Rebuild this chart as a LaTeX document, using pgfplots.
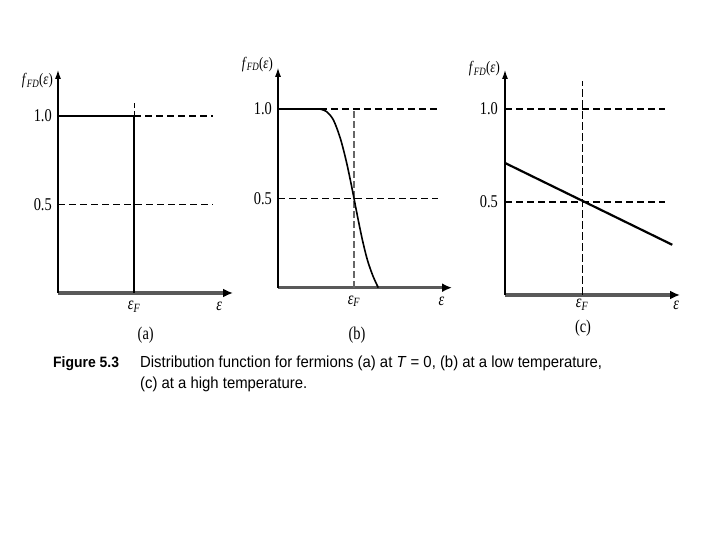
\documentclass[border=0pt]{standalone}
\usepackage{fontspec}
\setmainfont{Liberation Serif}
\newfontfamily\lbl[FakeStretch=0.8]{Liberation Serif}
\newfontfamily\capf[FakeStretch=0.93]{Liberation Sans}
\usepackage{pgfplots}
\pgfplotsset{compat=1.18}
\usetikzlibrary{arrows.meta}

\newcommand{\fd}{\textit{f}\textsubscript{\textit{FD}}(\textit{ε})}
\newcommand{\eF}{\textit{ε}\textsubscript{\textit{F}}}

\tikzset{
  dsh/.style={black, line width=1.2pt, dash pattern=on 7pt off 4pt},
  lbls/.style={font=\lbl\fontsize{18}{18}\selectfont, inner sep=0pt},
  ylab/.style={font=\lbl\fontsize{16}{16}\selectfont, inner sep=0pt, anchor=east},
}
\pgfplotsset{
  fdpanel/.style={
    scale only axis, clip=false, anchor=south west,
    axis x line=bottom, axis y line=left,
    xmin=0, ymin=0,
    xtick=\empty, ytick=\empty,
    x axis line style={line width=3.2pt, draw=black!65, -{Latex[length=10pt,width=9pt,black]}},
    y axis line style={line width=1.1pt, black, -{Latex[length=9pt,width=6pt]}},
  },
}

\begin{document}
\begin{tikzpicture}
\path[fill=white] (0pt,0pt) rectangle (720pt,540pt);

% (a) T = 0
\begin{axis}[fdpanel, at={(58pt,247pt)}, width=175pt, height=223pt, xmax=2.3, ymax=1.26]
\addplot[dsh] coordinates {(0,0.5) (2.04,0.5)};
\addplot[dsh] coordinates {(1,1) (2.04,1)};
\addplot[black, line width=0.9pt, dash pattern=on 5pt off 3pt] coordinates {(1,1) (1,1.09)};
\addplot[black, line width=1.3pt] coordinates {(1,0) (1,1)};
\addplot[black, line width=2.7pt] coordinates {(0,1) (1,1)};
\node[lbls, anchor=east, xshift=-6pt] at (axis cs:0,1) {1.0};
\node[lbls, anchor=east, xshift=-6pt] at (axis cs:0,0.5) {0.5};
\node[lbls, anchor=north, yshift=-8pt] at (axis cs:1,0) {\eF};
\node[lbls, anchor=north, yshift=-9pt] at (axis cs:2.12,0) {\textit{ε}};
\node[ylab, xshift=-5pt] at (axis cs:0,1.20) {\fd};
\end{axis}

% (b) low temperature
\begin{axis}[fdpanel, at={(278pt,252.3pt)}, width=174pt, height=219.8pt, xmax=2.29, ymax=1.23]
\addplot[dsh] coordinates {(0,0.5) (2.1,0.5)};
\addplot[dsh] coordinates {(0.55,1) (2.1,1)};
\addplot[black!60, line width=1.6pt, dash pattern=on 7pt off 3pt] coordinates {(1,0) (1,1)};
\addplot[black, line width=2.6pt] coordinates {(0,1) (0.55,1)};
\addplot[black, line width=1.6pt, smooth] coordinates {
  (0.55,1.0) (0.64,0.985) (0.73,0.938) (0.82,0.836) (0.90,0.705)
  (0.97,0.565) (1.0,0.5) (1.06,0.37) (1.12,0.25) (1.18,0.15)
  (1.25,0.065) (1.32,0.0)};
\node[lbls, anchor=east, xshift=-6pt] at (axis cs:0,1) {1.0};
\node[lbls, anchor=east, xshift=-6pt] at (axis cs:0,0.5) {0.5};
\node[lbls, anchor=north, yshift=-8pt] at (axis cs:1,0) {\eF};
\node[lbls, anchor=north, yshift=-9pt] at (axis cs:2.15,0) {\textit{ε}};
\node[ylab, xshift=-5pt] at (axis cs:0,1.25) {\fd};
\end{axis}

% (c) high temperature
\begin{axis}[fdpanel, at={(505pt,245pt)}, width=175pt, height=225pt, xmax=2.27, ymax=1.21]
\addplot[dsh] coordinates {(0,0.5) (2.08,0.5)};
\addplot[dsh] coordinates {(0,1) (2.08,1)};
\addplot[black, line width=0.9pt, dash pattern=on 8pt off 3pt] coordinates {(1,0) (1,1.15)};
\addplot[black, line width=2.2pt] coordinates {(0,0.71) (2.17,0.27)};
\node[lbls, anchor=east, xshift=-7pt] at (axis cs:0,1) {1.0};
\node[lbls, anchor=east, xshift=-7pt] at (axis cs:0,0.5) {0.5};
\node[lbls, anchor=north, yshift=-4pt] at (axis cs:1,0) {\eF};
\node[lbls, anchor=north, yshift=-6pt] at (axis cs:2.22,0) {\textit{ε}};
\node[ylab, xshift=-5pt] at (axis cs:0,1.215) {\fd};
\end{axis}

% panel letters
\node[lbls] at (145.7pt,205pt) {(a)};
\node[lbls] at (357pt,205pt) {(b)};
\node[lbls] at (583pt,212pt) {(c)};

% caption
\node[anchor=base west, inner sep=0, font=\capf\bfseries\fontsize{15}{15}\selectfont] at (53pt,172pt) {Figure 5.3};
\node[anchor=base west, inner sep=0, font=\capf\fontsize{16}{16}\selectfont] at (140pt,172pt)
  {Distribution function for fermions (a) at \textit{T} = 0, (b) at a low temperature,};
\node[anchor=base west, inner sep=0, font=\capf\fontsize{16}{16}\selectfont] at (140pt,151pt)
  {(c) at a high temperature.};

\pgfresetboundingbox
\path[use as bounding box] (0pt,0pt) rectangle (720pt,540pt);
\end{tikzpicture}
\end{document}
